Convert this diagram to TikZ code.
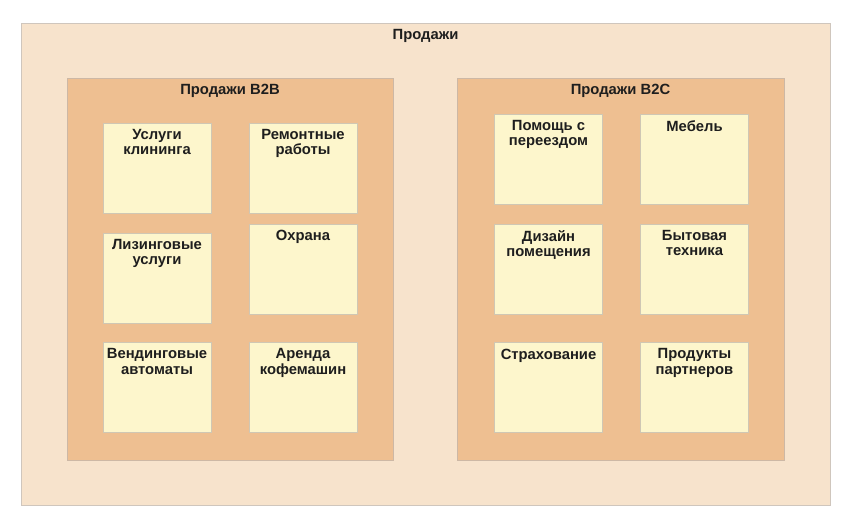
\documentclass[tikz,border=0pt]{standalone}
\usepackage{fontspec}
\setmainfont{Liberation Sans}
\definecolor{outerfill}{HTML}{F7E3CC}
\definecolor{outerdraw}{HTML}{CFC6BD}
\definecolor{groupfill}{HTML}{EEBF91}
\definecolor{groupdraw}{HTML}{CDB8A5}
\definecolor{stickfill}{HTML}{FDF6CC}
\definecolor{stickdraw}{HTML}{CFC7B4}
\definecolor{txt}{HTML}{1E1E1E}
\tikzset{
  outerbox/.style={draw=outerdraw, fill=outerfill, line width=0.8pt},
  groupbox/.style={draw=groupdraw, fill=groupfill, line width=0.8pt},
  stickbox/.style={draw=stickdraw, fill=stickfill, line width=0.8pt, minimum width=108pt, minimum height=90pt, inner sep=0pt},
  lbl/.style={font=\bfseries\fontsize{14.8}{15.3}\selectfont, text=txt, align=center, inner sep=0pt, anchor=north, yshift=-6.5pt},
}
\begin{document}
\begin{tikzpicture}[x=1pt,y=-1pt]
\useasboundingbox (0,0) rectangle (848,516);
\fill[white] (0,0) rectangle (848,516);
\node[outerbox, minimum width=809pt, minimum height=482pt, inner sep=0pt] (outer) at (425.5,264) {};
\node[lbl] (outert) at (outer.north) {Продажи};
% B2B
\node[groupbox, minimum width=326pt, minimum height=382pt, inner sep=0pt] (b2b) at (230,269) {};
\node[lbl] (b2bt) at (b2b.north) {Продажи B2B};
% B2C
\node[groupbox, minimum width=327pt, minimum height=382pt, inner sep=0pt] (b2c) at (620.5,269) {};
\node[lbl] (b2ct) at (b2c.north) {Продажи B2C};
% B2B stickies
\node[stickbox] (s1) at (157,168) {};
\node[lbl] (s1t) at (s1.north) {Услуги\\клининга};
\node[stickbox] (s2) at (303,168) {};
\node[lbl] (s2t) at (s2.north) {Ремонтные\\работы};
\node[stickbox] (s3) at (157,278) {};
\node[lbl] (s3t) at (s3.north) {Лизинговые\\услуги};
\node[stickbox] (s4) at (303,269) {};
\node[lbl] (s4t) at (s4.north) {Охрана};
\node[stickbox] (s5) at (157,387.5) {};
\node[lbl] (s5t) at (s5.north) {Вендинговые\\автоматы};
\node[stickbox] (s6) at (303,387.5) {};
\node[lbl] (s6t) at (s6.north) {Аренда\\кофемашин};
% B2C stickies
\node[stickbox] (c1) at (548.5,159) {};
\node[lbl] (c1t) at (c1.north) {Помощь с\\переездом};
\node[stickbox] (c2) at (694.5,159) {};
\node[lbl] (c2t) at (c2.north) {Мебель};
\node[stickbox] (c3) at (548.5,269) {};
\node[lbl] (c3t) at (c3.north) {Дизайн\\помещения};
\node[stickbox] (c4) at (694.5,269) {};
\node[lbl] (c4t) at (c4.north) {Бытовая\\техника};
\node[stickbox] (c5) at (548.5,387.5) {};
\node[lbl] (c5t) at (c5.north) {Страхование};
\node[stickbox] (c6) at (694.5,387.5) {};
\node[lbl] (c6t) at (c6.north) {Продукты\\партнеров};
\end{tikzpicture}
\end{document}
